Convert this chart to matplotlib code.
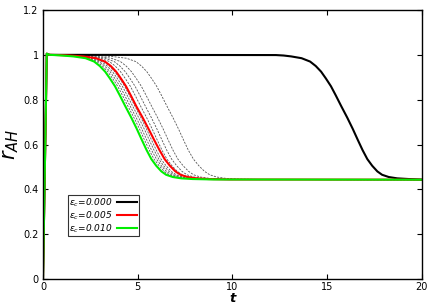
import matplotlib
matplotlib.use("Agg")
import numpy as np
from matplotlib import pyplot as plt

levels = [0.999, 0.997, 0.993, 0.985, 0.97, 0.95, 0.925, 0.895, 0.86, 0.82, 0.77, 0.72,
          0.67, 0.62, 0.575, 0.535, 0.505, 0.48, 0.465, 0.455, 0.449, 0.446, 0.444]

# initial rise and final tail, common to every curve
rise_t = [0.0, 0.2, 0.35]
rise_r = [0.0, 1.005, 1.0]
tail_t = 20.0
tail_r = 0.443

# times (t) where each curve crosses the levels above
t_eps000 = [12.3, 12.7, 13.1, 13.65, 14.1, 14.4, 14.68, 14.93, 15.2, 15.45, 15.75, 16.06,
            16.35, 16.62, 16.87, 17.12, 17.38, 17.65, 17.9, 18.25, 18.7, 19.3, 19.9]
t_eps005 = [0.85, 1.4, 2.1, 2.8, 3.27, 3.58, 3.86, 4.11, 4.38, 4.63, 4.93, 5.26,
            5.57, 5.87, 6.15, 6.42, 6.7, 6.99, 7.26, 7.63, 8.1, 8.72, 9.85]
t_eps010 = [0.6, 1.0, 1.6, 2.25, 2.7, 3.0, 3.28, 3.53, 3.8, 4.05, 4.35, 4.66,
            4.95, 5.22, 5.47, 5.72, 5.98, 6.25, 6.5, 6.85, 7.3, 7.9, 9.0]

# intermediate eps values (dashed)
t_dashed = [
    # 0.001
    [1.6, 2.6, 3.6, 4.4, 4.9, 5.2, 5.48, 5.73, 6.0, 6.25, 6.55, 6.86,
     7.15, 7.42, 7.67, 7.94, 8.23, 8.53, 8.8, 9.17, 9.65, 10.3, 11.5],
    # 0.002
    [1.23, 2.01, 2.86, 3.6, 4.09, 4.39, 4.67, 4.92, 5.19, 5.44, 5.74, 6.05,
     6.34, 6.61, 6.86, 7.12, 7.4, 7.69, 7.95, 8.31, 8.78, 9.41, 10.58],
    # 0.003
    [1.08, 1.77, 2.56, 3.28, 3.76, 4.06, 4.34, 4.59, 4.86, 5.11, 5.41, 5.72,
     6.01, 6.28, 6.53, 6.79, 7.06, 7.34, 7.6, 7.96, 8.43, 9.05, 10.2],
    # 0.004
    [0.97, 1.59, 2.34, 3.05, 3.51, 3.81, 4.09, 4.34, 4.61, 4.86, 5.16, 5.47,
     5.76, 6.03, 6.28, 6.54, 6.81, 7.09, 7.35, 7.71, 8.17, 8.79, 9.93],
    # 0.006
    [0.83, 1.37, 2.06, 2.74, 3.21, 3.51, 3.79, 4.04, 4.31, 4.56, 4.86, 5.17,
     5.46, 5.73, 5.98, 6.23, 6.5, 6.77, 7.03, 7.38, 7.84, 8.45, 9.58],
    # 0.007
    [0.78, 1.28, 1.95, 2.63, 3.09, 3.39, 3.67, 3.92, 4.19, 4.44, 4.74, 5.05,
     5.34, 5.61, 5.86, 6.11, 6.37, 6.65, 6.9, 7.26, 7.71, 8.32, 9.44],
    # 0.008
    [0.72, 1.19, 1.84, 2.51, 2.96, 3.26, 3.54, 3.79, 4.06, 4.31, 4.61, 4.92,
     5.21, 5.48, 5.73, 5.99, 6.25, 6.52, 6.78, 7.13, 7.58, 8.19, 9.3],
    # 0.009
    [0.67, 1.1, 1.73, 2.39, 2.84, 3.14, 3.42, 3.67, 3.94, 4.19, 4.49, 4.8,
     5.09, 5.36, 5.61, 5.86, 6.13, 6.4, 6.65, 7.0, 7.45, 8.06, 9.16],
]

x_ticks = [0, 5, 10, 15, 20]
y_ticks = [0, 0.2, 0.4, 0.6, 0.8, 1, 1.2]
y_tick_labels = ['0', '0.2', '0.4', '0.6', '0.8', '1', '1.2']


def full_curve(times):
    return rise_t + times + [tail_t], rise_r + levels + [tail_r]


fig = plt.figure(figsize=(4.36, 3.05), dpi=100)
ax = fig.add_axes([0.0986, 0.0852, 0.869, 0.882])

for times in t_dashed:
    x, y = full_curve(times)
    ax.plot(x, y, color='#555555', linewidth=0.6, dashes=(2.5, 1.5))

x, y = full_curve(t_eps000)
ax.plot(x, y, color='black', linewidth=1.5, label=r'$\varepsilon_c$=0.000')
x, y = full_curve(t_eps005)
ax.plot(x, y, color='#ff0000', linewidth=1.5, label=r'$\varepsilon_c$=0.005')
x, y = full_curve(t_eps010)
ax.plot(x, y, color='#00ee00', linewidth=1.5, label=r'$\varepsilon_c$=0.010')

ax.set_xlim(0, 20)
ax.set_ylim(0, 1.2)
ax.set_xticks(x_ticks)
ax.set_xticklabels([str(v) for v in x_ticks])
ax.set_yticks(y_ticks)
ax.set_yticklabels(y_tick_labels)
ax.tick_params(direction='in', length=3.5, width=0.8, labelsize=7,
               top=True, right=True, pad=3)
ax.tick_params(axis='x', pad=2)
for sp in ax.spines.values():
    sp.set_linewidth(1.0)

ax.set_xlabel('t', fontsize=9.5, fontstyle='italic', fontweight='bold', va='bottom')
ax.xaxis.set_label_coords(0.5, -0.095)
ax.set_ylabel(r'$r_{AH}$', fontsize=15)
ax.yaxis.set_label_coords(-0.058, 0.5)

leg = ax.legend(loc='lower left', bbox_to_anchor=(0.066, 0.16), fontsize=6.5,
                markerfirst=False, frameon=True, fancybox=False,
                handlelength=2.2, handletextpad=0.5, borderpad=0.15,
                labelspacing=0.05, borderaxespad=0)
leg.get_frame().set_edgecolor('black')
leg.get_frame().set_linewidth(0.8)
for txt in leg.get_texts():
    txt.set_fontstyle('italic')

fig.savefig('out.png', dpi=100)
